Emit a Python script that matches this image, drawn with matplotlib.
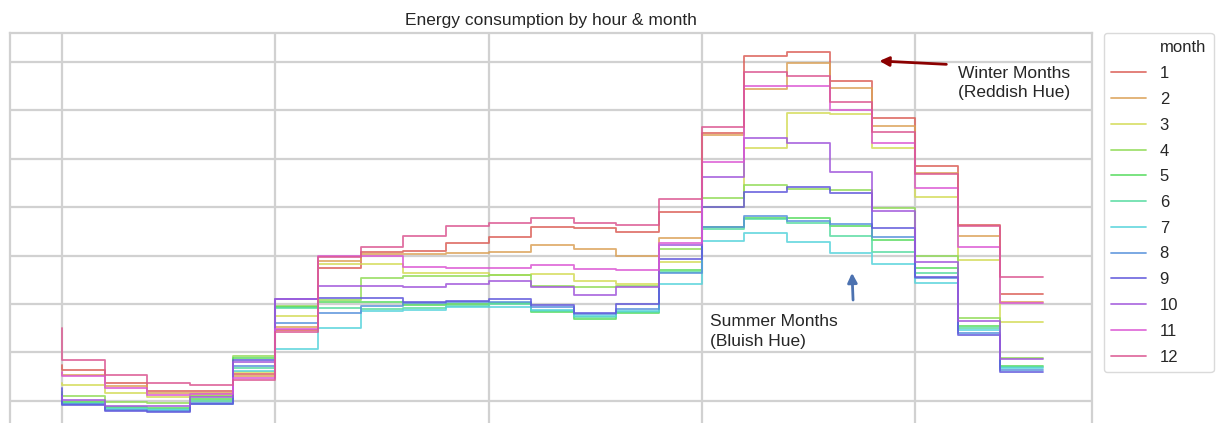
import matplotlib.pyplot as plt
import seaborn as sns
from matplotlib.lines import Line2D
from matplotlib.ticker import MultipleLocator

# average load (MW) by hour of day, one list per month
hours = list(range(24))
jan = [27490, 27280, 26740, 26410, 26410, 27120, 28930, 31490, 32150, 32200, 32530, 32770,
       33190, 33150, 32980, 33810, 37070, 40250, 40410, 39220, 37690, 35710, 33270, 30420]
feb = [27200, 27070, 26620, 26330, 26330, 27030, 29060, 31780, 32070, 32070, 32110, 32150,
       32440, 32280, 31990, 32730, 36990, 38890, 39960, 38930, 37360, 35420, 32820, 30090]
mar = [26740, 26660, 26330, 26170, 26250, 27200, 29510, 31660, 31660, 31290, 31290, 31200,
       31250, 30960, 30830, 31740, 34010, 36450, 37890, 37850, 36450, 34430, 31820, 29260]
apr = [26370, 26210, 25960, 25920, 26210, 27860, 29920, 30170, 31080, 31160, 31160, 31200,
       30750, 30710, 30750, 32280, 34380, 34920, 34760, 34710, 33970, 31990, 29430, 27780]
may = [26120, 25960, 25750, 25710, 26080, 27780, 29880, 30090, 30090, 29970, 30010, 30050,
       29680, 29390, 29630, 31410, 33190, 33560, 33560, 33230, 32650, 31490, 29100, 27450]
jun = [26080, 25920, 25710, 25670, 26000, 27360, 29840, 29840, 29800, 29840, 29920, 30010,
       29720, 29470, 29680, 31330, 33100, 33520, 33350, 32820, 32150, 31290, 29020, 27400]
jul = [26000, 25880, 25670, 25630, 25880, 27240, 28150, 29020, 29720, 29760, 29880, 29880,
       29760, 29510, 29720, 30830, 32610, 32940, 32570, 32110, 31660, 30870, 28930, 27360]
aug = [26250, 25880, 25630, 25590, 25920, 27450, 29220, 29630, 29920, 30050, 30090, 30090,
       29880, 29590, 29800, 31290, 33190, 33640, 33430, 33310, 32770, 31080, 28810, 27280]
sep = [26540, 25840, 25590, 25550, 25880, 27690, 30210, 30250, 30250, 30090, 30130, 30210,
       29970, 29630, 30010, 31870, 34010, 34630, 34840, 34590, 33150, 31120, 28730, 27200]
oct_ = [26210, 26040, 25790, 25790, 26170, 27610, 30210, 30750, 30750, 30710, 30830, 30960,
        30710, 30380, 30710, 32440, 35250, 36860, 36660, 35460, 33850, 31740, 29300, 27740]
nov = [27200, 27030, 26540, 26250, 26290, 26950, 28970, 31990, 31990, 31530, 31490, 31490,
       31620, 31450, 31410, 32530, 35870, 39010, 39010, 38020, 36660, 34800, 32360, 30050]
dec = [29020, 27690, 27070, 26740, 26660, 26870, 28850, 31950, 32360, 32820, 33230, 33350,
       33560, 33350, 33270, 34340, 37320, 39590, 39420, 38350, 37110, 35380, 33230, 31120]

months = [1, 2, 3, 4, 5, 6, 7, 8, 9, 10, 11, 12]
series = [jan, feb, mar, apr, may, jun, jul, aug, sep, oct_, nov, dec]

sns.set_style('whitegrid')
plt.rcParams['font.family'] = ['Liberation Sans', 'DejaVu Sans']
plt.rcParams['text.color'] = '.15'

colors = sns.color_palette('hls', 12)

fig = plt.figure(figsize=(12.26, 4.23), dpi=100)
ax = fig.add_axes([10 / 1226, -2 / 423, 1082 / 1226, 392 / 423])

for m, vals, c in zip(months, series, colors):
    ax.plot(hours, vals, drawstyle='steps-pre', color=c, lw=1.3, alpha=0.85, label=str(m))

ax.set_xlim(-1.22, 24.15)
ax.set_ylim(25000, 41200)
ax.xaxis.set_major_locator(MultipleLocator(5))
ax.yaxis.set_major_locator(MultipleLocator(2000))
ax.tick_params(labelleft=False, labelbottom=False, length=0)
ax.grid(True, color='.82', lw=1.6)
for s in ax.spines.values():
    s.set_color('.82')
    s.set_linewidth(1.6)

ax.set_title('Energy consumption by hour & month', fontsize=12.5, pad=6)

# winter / summer notes
ax.annotate('', xy=(19.1, 40050), xytext=(20.8, 39900),
            arrowprops=dict(arrowstyle='-|>', color='darkred', lw=2, mutation_scale=14))
ax.text(21.0, 39130, 'Winter Months\n(Reddish Hue)', fontsize=12.5, va='center', ha='left',
        linespacing=1.4)
ax.annotate('', xy=(18.52, 31400), xytext=(18.55, 30050),
            arrowprops=dict(arrowstyle='-|>', color='#4c72b0', lw=2, mutation_scale=14))
ax.text(15.19, 28880, 'Summer Months\n(Bluish Hue)', fontsize=12.5, va='center', ha='left',
        linespacing=1.4)

handles, labels = ax.get_legend_handles_labels()
title_h = Line2D([], [], color='none')
leg = ax.legend([title_h] + handles, ['month'] + labels, loc='upper left',
                bbox_to_anchor=(1.011, 1.0), borderaxespad=0, fontsize=12,
                labelspacing=0.645, handlelength=2.1, borderpad=0.45,
                frameon=True, fancybox=True)
leg.get_frame().set_edgecolor('.82')

fig.savefig('out.png', dpi=100)
